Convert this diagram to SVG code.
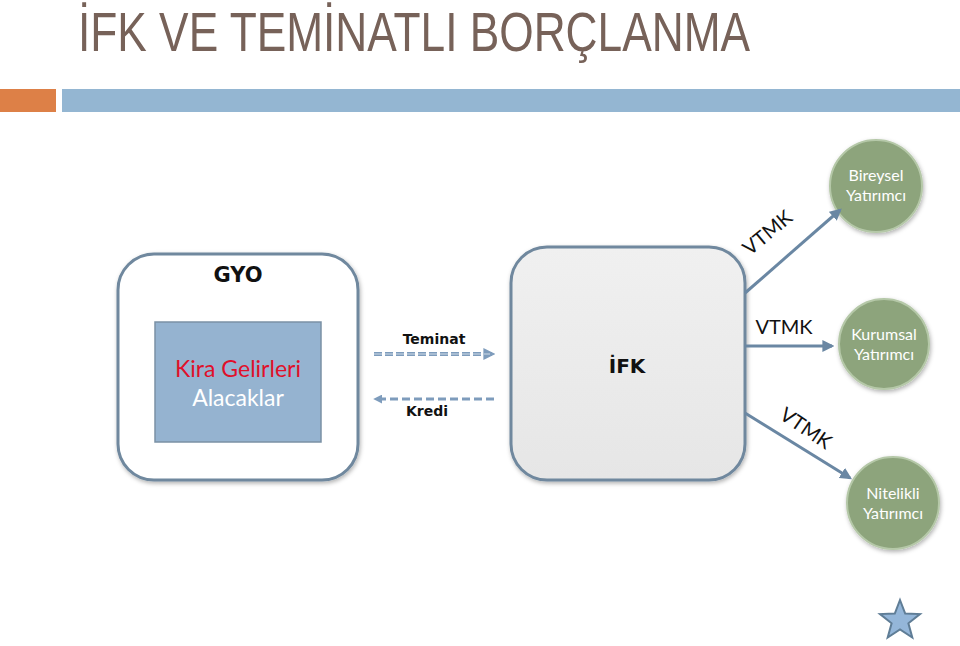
<svg xmlns="http://www.w3.org/2000/svg" width="960" height="646" viewBox="0 0 960 646">
<style>
.box{stroke:#6f889e;stroke-width:3}
.circ{fill:#8da47c;stroke:#b5c8a8;stroke-width:2}
.ctext{font-family:Lato,"Open Sans",sans-serif;font-size:16px;fill:#ffffff;text-anchor:middle}
.conn{stroke:#6a87a3;stroke-width:3;fill:none}
.vtmk{font-family:Lato,"Open Sans",sans-serif;font-size:20px;fill:#111;text-anchor:middle}
.lbl{font-family:"DejaVu Sans",sans-serif;font-weight:bold;fill:#111;text-anchor:middle}
</style>
<defs>
<marker id="ah" viewBox="0 0 10 10" refX="8" refY="5" markerWidth="4" markerHeight="4" orient="auto-start-reverse">
<path d="M0,0 L10,5 L0,10 z" fill="#6a87a3"/>
</marker>
<marker id="dh" viewBox="0 0 10 10" refX="8" refY="5" markerWidth="3" markerHeight="3" orient="auto-start-reverse">
<path d="M0,0 L10,5 L0,10 z" fill="#7e9cbc"/>
</marker>
<linearGradient id="gray" x1="0" y1="0" x2="0" y2="1">
<stop offset="0" stop-color="#f0f0f0"/>
<stop offset="1" stop-color="#e6e6e6"/>
</linearGradient>
<radialGradient id="green" cx="0.45" cy="0.4" r="0.6">
<stop offset="0" stop-color="#98ae88"/>
<stop offset="1" stop-color="#86a076"/>
</radialGradient>
<filter id="sh" x="-20%" y="-20%" width="140%" height="140%">
<feDropShadow dx="1" dy="2" stdDeviation="2" flood-color="#000" flood-opacity="0.3"/>
</filter>
</defs>
<rect width="960" height="646" fill="#ffffff"/>

<text x="78" y="51" font-family="'Liberation Sans',sans-serif" font-size="55" fill="#776259" textLength="672" lengthAdjust="spacingAndGlyphs">İFK VE TEMİNATLI BORÇLANMA</text>
<rect x="0" y="89" width="56" height="23" fill="#dd8047"/>
<rect x="62" y="89" width="898" height="23" fill="#94b6d2"/>

<g id="gyo">
<rect class="box" x="118" y="254" width="240" height="226" rx="36" fill="#ffffff" filter="url(#sh)"/>
<text class="lbl" x="238" y="282" font-size="21">GYO</text>
</g>
<g id="alacaklar">
<rect x="155" y="322" width="166" height="120" fill="#95b3d0" stroke="#7b91a5" stroke-width="1.5"/>
<text x="238" y="377" font-family="Lato,'Open Sans',sans-serif" font-size="23" fill="#e0102a" text-anchor="middle">Kira Gelirleri</text>
<text x="238" y="406" font-family="Lato,'Open Sans',sans-serif" font-size="23" fill="#ffffff" text-anchor="middle">Alacaklar</text>
</g>
<g id="ifk">
<rect class="box" x="511" y="247" width="234" height="233" rx="36" fill="url(#gray)" filter="url(#sh)"/>
<text class="lbl" x="627" y="373" font-size="20">İFK</text>
</g>
<g id="bireysel">
<circle class="circ" cx="876" cy="186" r="46" fill="url(#green)" filter="url(#sh)"/>
<text class="ctext" x="876" y="181">Bireysel</text>
<text class="ctext" x="876" y="201">Yatırımcı</text>
</g>
<g id="kurumsal">
<circle class="circ" cx="884" cy="344" r="45" fill="url(#green)" filter="url(#sh)"/>
<text class="ctext" x="884" y="340">Kurumsal</text>
<text class="ctext" x="884" y="360">Yatırımcı</text>
</g>
<g id="nitelikli">
<circle class="circ" cx="893" cy="503" r="46" fill="url(#green)" filter="url(#sh)"/>
<text class="ctext" x="893" y="499">Nitelikli</text>
<text class="ctext" x="893" y="519">Yatırımcı</text>
</g>

<g id="connectors">
<line x1="374" y1="354" x2="493" y2="354" stroke="#7e9cbc" stroke-width="4" stroke-dasharray="8,3" marker-end="url(#dh)"/>
<line x1="374" y1="354" x2="490" y2="354" stroke="#d0dce8" stroke-width="1" stroke-dasharray="8,3"/>
<line x1="494" y1="399" x2="375" y2="399" stroke="#7e9cbc" stroke-width="3" stroke-dasharray="8,4" marker-end="url(#dh)"/>
<text class="lbl" x="434" y="344" font-size="14">Teminat</text>
<text class="lbl" x="427" y="416" font-size="14">Kredi</text>
<line class="conn" x1="745" y1="293" x2="840" y2="210" marker-end="url(#ah)"/>
<line class="conn" x1="745" y1="346" x2="832" y2="346" marker-end="url(#ah)"/>
<line class="conn" x1="745" y1="413" x2="850" y2="478" marker-end="url(#ah)"/>
<text class="vtmk" transform="translate(772,238) rotate(-40)">VTMK</text>
<text class="vtmk" x="784" y="334">VTMK</text>
<text class="vtmk" transform="translate(802,434) rotate(34)">VTMK</text>
</g>

<polygon points="900,600 905.2,613.5 920,614.1 908.4,623.3 912.3,637.5 900,629.4 887.7,637.5 891.6,623.3 880,614.1 894.8,613.5" fill="#94b6d9" stroke="#5f7d96" stroke-width="2" stroke-linejoin="miter"/>
</svg>
